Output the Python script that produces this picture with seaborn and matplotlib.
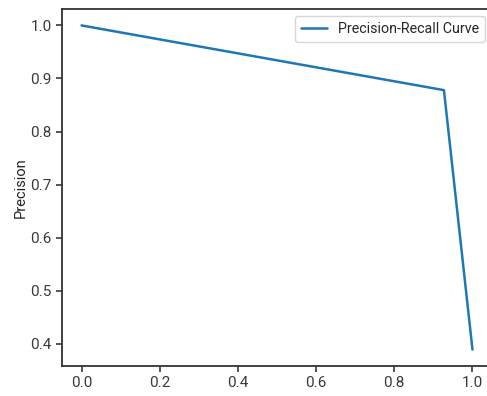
import matplotlib
matplotlib.use("Agg")
import matplotlib.pyplot as plt
import seaborn as sns
import pandas as pd

recall = [0.0, 0.927, 1.0]
precision = [1.0, 0.878, 0.389]
curve_label = "Precision-Recall Curve"

sns.set_style("ticks")
plt.rcParams["font.family"] = ["Roboto", "DejaVu Sans"]
plt.rcParams["font.size"] = 11

df = pd.DataFrame({"Recall": recall, "Precision": precision})

fig = plt.figure(figsize=(4.87, 3.96), dpi=100)
ax = fig.add_axes([0.1273, 0.0758, 0.8830, 0.9015])
sns.lineplot(data=df, x="Recall", y="Precision", ax=ax, color="#1f77b4",
             linewidth=1.8, label=curve_label)

ax.set_xlim(-0.05, 1.05)
ax.set_ylim(0.358, 1.031)
ax.set_xticks([0.0, 0.2, 0.4, 0.6, 0.8, 1.0])
ax.set_yticks([0.4, 0.5, 0.6, 0.7, 0.8, 0.9, 1.0])
ax.set_xlabel("")
ax.set_ylabel("Precision", fontsize=10.5, labelpad=2)
ax.tick_params(labelsize=11, length=4, width=1.2, colors="#3a3a3a")
for s in ax.spines.values():
    s.set_color("#333333")
    s.set_linewidth(1.3)
ax.legend(loc="upper right", fontsize=10.3, frameon=True, handlelength=1.8)

fig.savefig("out.png", dpi=100)
